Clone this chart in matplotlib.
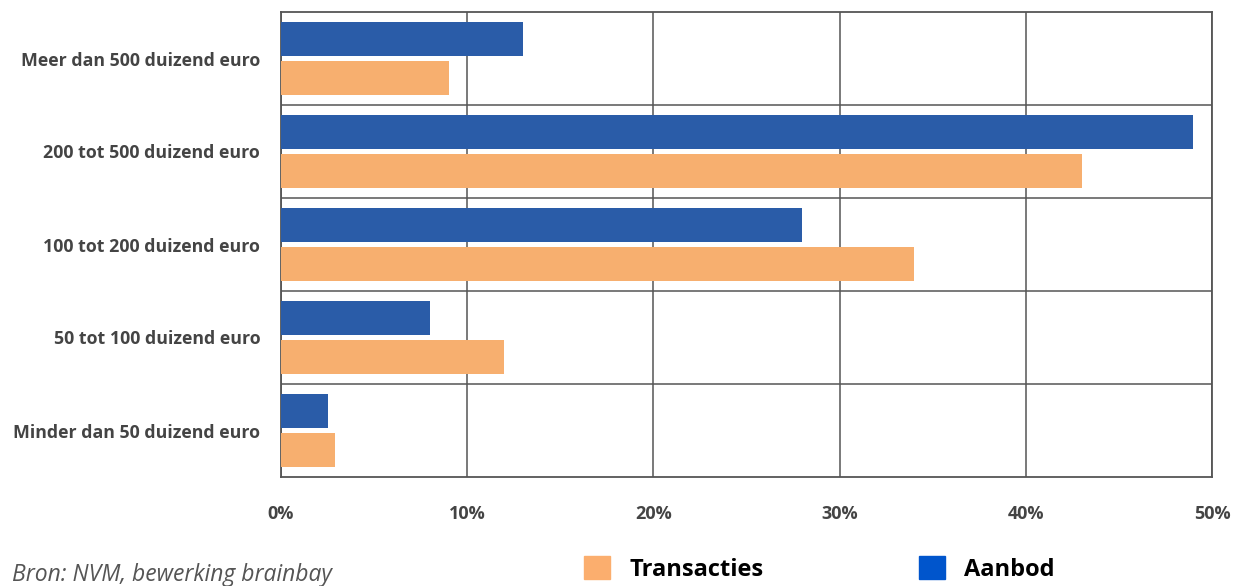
import numpy as np
import matplotlib.pyplot as plt
from matplotlib.patches import Patch

plt.rcParams['font.family'] = ['Open Sans', 'DejaVu Sans']

# prijsklassen, van onder naar boven
categories = ['Minder dan 50 duizend euro', '50 tot 100 duizend euro',
              '100 tot 200 duizend euro', '200 tot 500 duizend euro',
              'Meer dan 500 duizend euro']
aanbod = [2.5, 8, 28, 49, 13]
transacties = [2.9, 12, 34, 43, 9]
xticks = [0, 10, 20, 30, 40, 50]
xlabels = ['0%', '10%', '20%', '30%', '40%', '50%']

blauw = '#2a5ca8'
oranje = '#f7af6f'
grijs = '#555555'

fig = plt.figure(figsize=(12.36, 5.86), dpi=100)
ax = fig.add_axes([281/1236, 1-477/586, (1212-281)/1236, (477-12)/586])

y = np.arange(len(categories))
ax.barh(y + 0.205, aanbod, height=0.365, color=blauw, zorder=3)
ax.barh(y - 0.205, transacties, height=0.365, color=oranje, zorder=3)

ax.set_xlim(0, 50)
ax.set_ylim(-0.5, len(categories) - 0.5)
ax.set_xticks(xticks)
ax.set_xticklabels(xlabels, fontsize=13)
ax.set_yticks(y)
ax.set_yticklabels(categories, fontsize=12.8)
ax.set_yticks(y[:-1] + 0.5, minor=True)

ax.grid(axis='x', color=grijs, lw=1.1, zorder=1)
ax.grid(axis='y', which='minor', color=grijs, lw=1.1, zorder=1)
ax.tick_params(axis='both', which='both', length=0)
ax.tick_params(axis='y', pad=15)
ax.tick_params(axis='x', pad=20)
for lab in ax.get_xticklabels() + ax.get_yticklabels():
    lab.set_fontweight('bold')
    lab.set_color('#444444')
for s in ax.spines.values():
    s.set_color(grijs)
    s.set_linewidth(1.3)

fig.text(12/1236, 1-581/586, 'Bron: NVM, bewerking brainbay', fontsize=16.5,
         style='italic', color='#555555', va='baseline')

handles = [Patch(color='#fbae6e', label='Transacties'),
           Patch(color='#0055cc', label='Aanbod')]
leg = fig.legend(handles=handles, loc='upper left', ncol=2,
                 bbox_to_anchor=(563/1236, 1-535/586), frameon=False,
                 prop={'size': 17, 'weight': 'bold'},
                 handlelength=1.1, handleheight=1.1, handletextpad=0.8,
                 columnspacing=6.6)

fig.savefig('out.png', dpi=100)
